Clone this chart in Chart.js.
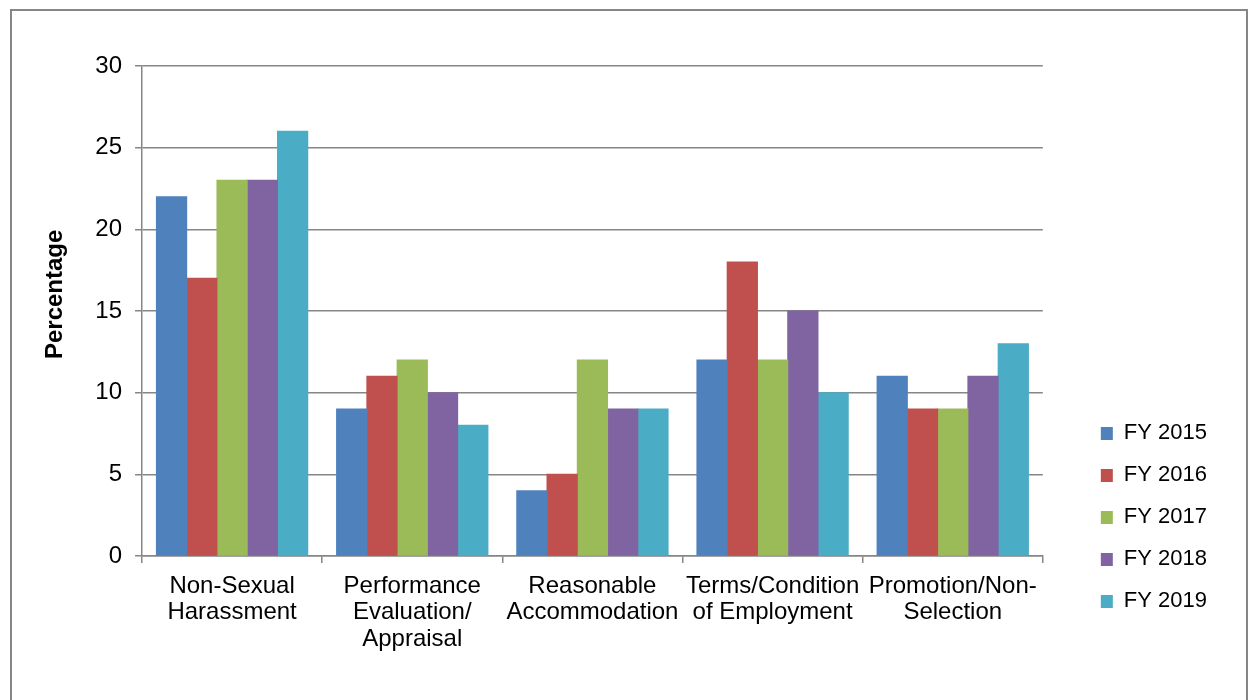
<!DOCTYPE html>
<html>
<head>
<meta charset="utf-8">
<title>Complaint bases by fiscal year</title>
<script src="https://cdn.jsdelivr.net/npm/chart.js@4/dist/chart.umd.min.js"></script>
<style>
    html, body { margin: 0; padding: 0; background: #fff; overflow: hidden; }
    #frame {
        position: absolute;
        left: 10px;
        top: 9px;
        width: 1234px;
        height: 720px;
        border: 2px solid #868686;
        border-bottom: none;
    }
    #chart { position: absolute; left: 0; top: 0; }
</style>
</head>
<body>
<div id="frame"></div>
<canvas id="chart" width="1248" height="700"></canvas>
<script>
const categories = [
    ['Non-Sexual', 'Harassment'],
    ['Performance', 'Evaluation/', 'Appraisal'],
    ['Reasonable', 'Accommodation'],
    ['Terms/Condition', 'of Employment'],
    ['Promotion/Non-', 'Selection'],
];

const fy2015 = [22, 9, 4, 12, 11];
const fy2016 = [17, 11, 5, 18, 9];
const fy2017 = [23, 12, 12, 12, 9];
const fy2018 = [23, 10, 9, 15, 11];
const fy2019 = [26, 8, 9, 10, 13];

const seriesNames = ['FY 2015', 'FY 2016', 'FY 2017', 'FY 2018', 'FY 2019'];
const seriesColors = ['#4f81bd', '#c0504d', '#9bbb59', '#8064a2', '#4bacc6'];

const yTicks = [0, 5, 10, 15, 20, 25, 30];

const gridColor = '#868686';
const fontFamily = "'Liberation Sans', Arial, sans-serif";

const datasets = [fy2015, fy2016, fy2017, fy2018, fy2019].map((data, i) => ({
    label: seriesNames[i],
    data,
    backgroundColor: seriesColors[i],
    borderWidth: 0,
    // bars touch each other in the original, cover the antialias seams
    inflateAmount: 0.5,
    categoryPercentage: 0.84,
    barPercentage: 1.0,
}));

new Chart('chart', {
    type: 'bar',
    data: {
        labels: categories,
        datasets,
    },
    options: {
        responsive: false,
        animation: false,
        events: [],
        layout: {
            padding: { left: 41, top: 66, right: 31, bottom: 44 },
        },
        scales: {
            x: {
                grid: {
                    drawOnChartArea: false,
                    drawTicks: true,
                    tickLength: 7,
                    color: gridColor,
                    lineWidth: 1.5,
                },
                border: { color: gridColor, width: 1.5 },
                ticks: {
                    color: '#000',
                    padding: 10,
                    maxRotation: 0,
                    autoSkip: false,
                    font: { family: fontFamily, size: 24, lineHeight: 1.1 },
                },
                afterFit: (scale) => { scale.height = 100; },
            },
            y: {
                min: 0,
                max: 30,
                afterBuildTicks: (scale) => {
                    scale.ticks = yTicks.map((value) => ({ value }));
                },
                grid: {
                    color: gridColor,
                    lineWidth: 1.5,
                    tickLength: 7,
                },
                border: { color: gridColor, width: 1.5 },
                ticks: {
                    color: '#000',
                    padding: 13,
                    font: { family: fontFamily, size: 24 },
                },
                title: {
                    display: true,
                    // leading spaces nudge the title up a little, like the original
                    text: '     Percentage',
                    color: '#000',
                    padding: { top: 0, bottom: 25 },
                    font: { family: fontFamily, size: 24, weight: 'bold' },
                },
                afterFit: (scale) => { scale.width = 101; },
            },
            // empty axis, only keeps the legend away from the plot
            gap: {
                type: 'linear',
                position: 'right',
                grid: { display: false },
                border: { display: false },
                ticks: { display: false },
                afterFit: (scale) => { scale.width = 38; },
            },
        },
        plugins: {
            legend: {
                position: 'right',
                align: 'start',
                title: {
                    display: true,
                    text: ' ',
                    padding: { top: 322, bottom: 0 },
                },
                labels: {
                    boxWidth: 12,
                    boxHeight: 13,
                    padding: 20,
                    color: '#000',
                    font: { family: fontFamily, size: 22 },
                },
            },
            tooltip: { enabled: false },
        },
    },
});
</script>
</body>
</html>
